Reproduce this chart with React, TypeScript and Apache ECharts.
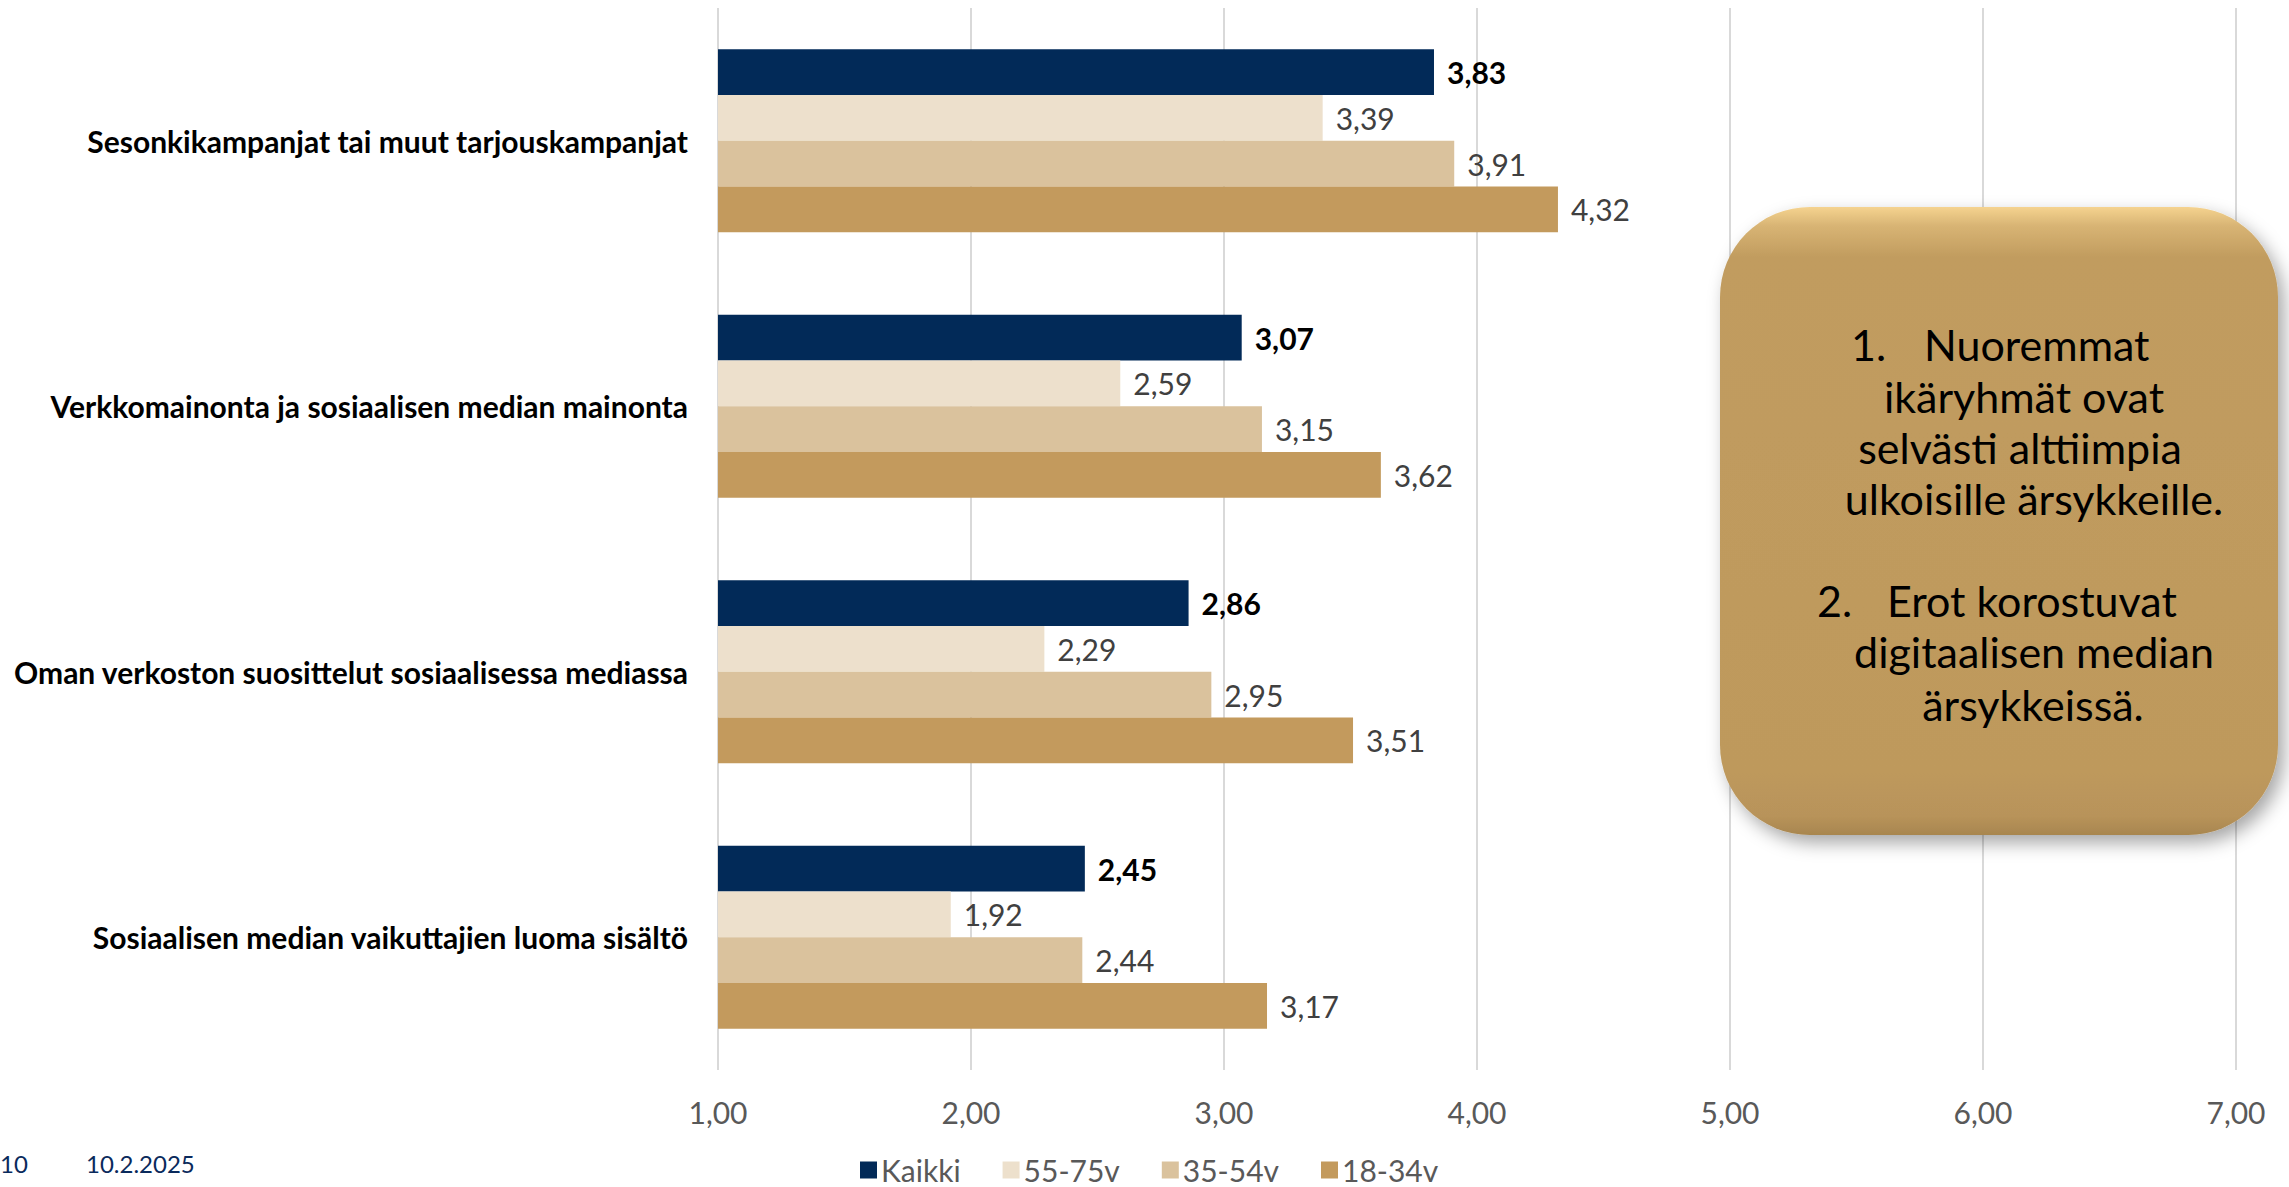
import React, { useEffect, useRef } from "react";
import * as echarts from "echarts";

const categories = [
  "Sesonkikampanjat tai muut tarjouskampanjat",
  "Verkkomainonta ja sosiaalisen median mainonta",
  "Oman verkoston suosittelut sosiaalisessa mediassa",
  "Sosiaalisen median vaikuttajien luoma sisältö",
];
const seriesNames = ["Kaikki", "55-75v", "35-54v", "18-34v"];
const kaikki = [3.83, 3.07, 2.86, 2.45];
const v55_75 = [3.39, 2.59, 2.29, 1.92];
const v35_54 = [3.91, 3.15, 2.95, 2.44];
const v18_34 = [4.32, 3.62, 3.51, 3.17];
const seriesValues = [kaikki, v55_75, v35_54, v18_34];
const colors = ["#022A58", "#EDE0CC", "#DAC29D", "#C39A5D"];
const xTicks = { min: 1, max: 7, interval: 1 };

const boxLines = [
  { text: "Nuoremmat", x: 1924, y: 344, align: "left" },
  { text: "ikäryhmät ovat", x: 2024, y: 396, align: "center" },
  { text: "selvästi alttiimpia", x: 2020, y: 447, align: "center" },
  { text: "ulkoisille ärsykkeille.", x: 2034, y: 498, align: "center" },
  { text: "Erot korostuvat", x: 1887, y: 600, align: "left" },
  { text: "digitaalisen median", x: 2034, y: 651, align: "center" },
  { text: "ärsykkeissä.", x: 2033, y: 704, align: "center" },
];
const boxNumbers = [
  { text: "1.", x: 1851, y: 344 },
  { text: "2.", x: 1817, y: 600 },
];

const fmt = (v: number) => v.toFixed(2).replace(".", ",");

export default function App() {
  const ref = useRef<HTMLDivElement>(null);
  useEffect(() => {
    if (!ref.current) return;
    const chart = echarts.init(ref.current, undefined, { renderer: "svg" });
    const font = "Lato";
    const series = seriesNames.map((name, i) => ({
      name,
      type: "bar",
      data: seriesValues[i],
      barGap: "0%",
      barCategoryGap: "31%",
      clip: true,
      itemStyle: { color: colors[i] },
      label: {
        show: true,
        position: "right",
        distance: 13,
        formatter: (p: any) => fmt(p.value),
        fontFamily: font,
        fontSize: 30,
        fontWeight: i === 0 ? "bold" : "normal",
        color: i === 0 ? "#000000" : "#404040",
      },
    }));
    const graphics: any[] = [
      {
        type: "rect",
        x: 1720,
        y: 207,
        shape: { x: 0, y: 0, width: 558, height: 628, r: 90 },
        style: {
          fill: new echarts.graphic.LinearGradient(0, 0, 0, 1, [
            { offset: 0, color: "#F5D38F" },
            { offset: 0.03, color: "#D8B474" },
            { offset: 0.08, color: "#C19C5F" },
            { offset: 0.9, color: "#BE995C" },
            { offset: 0.97, color: "#B8935A" },
            { offset: 1, color: "#A8864F" },
          ]),
          shadowBlur: 18,
          shadowOffsetX: 6,
          shadowOffsetY: 8,
          shadowColor: "rgba(0,0,0,0.35)",
        },
        z: 10,
      },
      ...boxLines.map((l) => ({
        type: "text",
        x: l.x,
        y: l.y,
        z: 11,
        style: {
          text: l.text,
          fontFamily: font,
          fontSize: 43,
          fill: "#000000",
          textAlign: l.align,
          textVerticalAlign: "middle",
        },
      })),
      ...boxNumbers.map((l) => ({
        type: "text",
        x: l.x,
        y: l.y,
        z: 11,
        style: {
          text: l.text,
          fontFamily: font,
          fontSize: 43,
          fill: "#000000",
          textAlign: "left",
          textVerticalAlign: "middle",
        },
      })),
      {
        type: "text",
        x: 0,
        y: 1163,
        style: { text: "10", fontFamily: font, fontSize: 24, fill: "#0A2A5C", textVerticalAlign: "middle" },
      },
      {
        type: "text",
        x: 86,
        y: 1163,
        style: { text: "10.2.2025", fontFamily: font, fontSize: 24, fill: "#0A2A5C", textVerticalAlign: "middle" },
      },
    ];
    chart.setOption({
      animation: false,
      textStyle: { fontFamily: font },
      grid: { left: 718, right: 53, top: 8, bottom: 117, containLabel: false },
      legend: {
        data: seriesNames,
        left: 855,
        top: 1150,
        icon: "rect",
        itemWidth: 17,
        itemHeight: 17,
        itemGap: 42,
        textStyle: { fontFamily: font, fontSize: 30, color: "#595959", padding: [0, 0, 0, -1] },
      },
      xAxis: {
        type: "value",
        min: xTicks.min,
        max: xTicks.max,
        interval: xTicks.interval,
        axisLine: { show: false },
        axisTick: { show: false },
        splitLine: { show: true, lineStyle: { color: "#D9D9D9", width: 2 } },
        axisLabel: {
          formatter: (v: number) => fmt(v),
          fontFamily: font,
          fontSize: 30,
          color: "#595959",
          margin: 27,
        },
      },
      yAxis: {
        type: "category",
        data: categories,
        inverse: true,
        axisLine: { show: false },
        axisTick: { show: false },
        axisLabel: {
          fontFamily: font,
          fontSize: 30,
          fontWeight: "bold",
          color: "#000000",
          margin: 30,
        },
      },
      series,
      graphic: graphics,
    });
    return () => chart.dispose();
  }, []);
  return (
    <div
      ref={ref}
      style={{ position: "fixed", left: 0, top: 0, width: 2289, height: 1187, background: "#ffffff" }}
    />
  );
}
